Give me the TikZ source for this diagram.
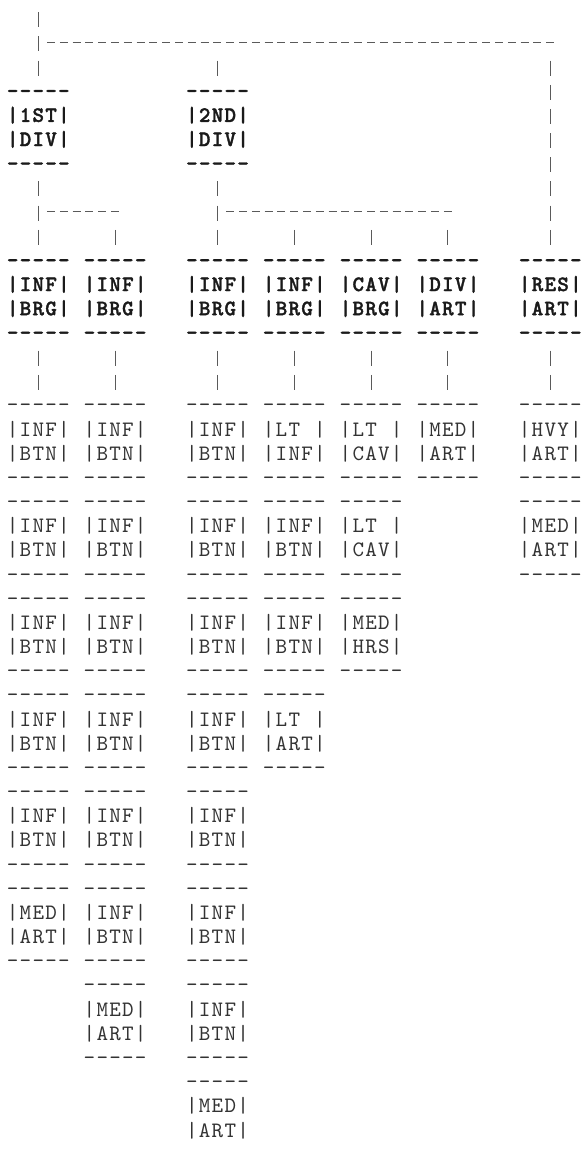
\documentclass[tikz,border=0pt]{standalone}
\usepackage{xcolor}
\usepackage{fontspec}
\usepackage{tikz}
\newfontfamily\asciimono{lmmono10-regular.otf}[BoldFont=lmmonolt10-bold.otf,
  BoldFeatures={FakeBold=1.5}]
\definecolor{inkcol}{HTML}{333333}
\definecolor{headcol}{HTML}{1A1A1A}
\definecolor{barcol}{HTML}{5A5A5A}
\newlength{\colw}
\setlength{\colw}{12.8pt}
\newcommand\asciifont{\asciimono\fontsize{22}{24.17}\selectfont}
\newcommand\spreadi[1]{\ifx\relax#1\else\makebox[\colw]{#1}\expandafter\spreadi\fi}
\newcommand\spread[1]{\strut\spreadi#1\relax}
\newcommand\asciiopen[2]{\spread{-----}\\%
  \expandafter\spread\expandafter{\expandafter|#1|}\\%
  \expandafter\spread\expandafter{\expandafter|#2|}}
\newcommand\asciibox[2]{\asciiopen{#1}{#2}\\%
  \spread{-----}}

\begin{document}
\begin{tikzpicture}[x=12.8pt, y=-24.17pt,
      headbox/.style={font=\asciifont\bfseries, text=headcol, align=left,
                      inner sep=0pt, outer sep=0pt, anchor=north west},
      leafbox/.style={font=\asciifont, text=inkcol, align=left,
                      inner sep=0pt, outer sep=0pt, anchor=north west},
      vbar/.style={draw=barcol, line width=1pt,
                   dash pattern=on 15pt off 9.17pt, shorten <=3.99pt},
      hbar/.style={draw=barcol, line width=1.2pt,
                   dash pattern=on 8pt off 4.8pt, shorten <=8.8pt, shorten >=-4pt}]

    \fill[white] (-0.492,-0.765) rectangle (44.977,46.94);
    \useasboundingbox (-0.492,-0.765) rectangle (44.977,46.94);

    \node[headbox] (div1) at (0,2.578) {\asciibox{1ST}{DIV}};
    \node[headbox] (div2) at (14,2.578) {\asciibox{2ND}{DIV}};

    % stacked leaf boxes, one column each
    \foreach \c/\list in {
        0/{INF/BTN,INF/BTN,INF/BTN,INF/BTN,INF/BTN,MED/ART},
        6/{INF/BTN,INF/BTN,INF/BTN,INF/BTN,INF/BTN,INF/BTN,MED/ART},
        14/{INF/BTN,INF/BTN,INF/BTN,INF/BTN,INF/BTN,INF/BTN,INF/BTN},
        20/{LT~/INF,INF/BTN,INF/BTN,LT~/ART},
        26/{LT~/CAV,LT~/CAV,MED/HRS},
        32/{MED/ART},
        40/{HVY/ART,MED/ART}}
    {
      \foreach \a/\b [count=\k from 0] in \list
        \node[leafbox] (l\c-\k) at (\c,15.578+4*\k) {\asciibox{\a}{\b}};
    }
    % last one runs off the page
    \node[leafbox] (l14-7) at (14,43.578) {\asciiopen{MED}{ART}};

    \foreach \c/\a/\b [count=\n] in {0/INF/BRG,6/INF/BRG,14/INF/BRG,
        20/INF/BRG,26/CAV/BRG,32/DIV/ART,40/RES/ART}
    {
      \node[headbox] (b\n) at (\c,9.578) {\asciibox{\a}{\b}};
      \draw[vbar] (b\n.south) -- (l\c-0.north);
    }

    \coordinate (root) at (2.5,-0.422);
    \coordinate (fork) at (2.5,1);
    \coordinate (tee2) at (16.5,1);
    \coordinate (forkend) at (42.5,1);
    \coordinate (fork1) at (2.5,8);
    \coordinate (fork1end) at (8.5,8);
    \coordinate (fork2) at (16.5,8);
    \coordinate (tee4) at (22.5,8);
    \coordinate (tee5) at (28.5,8);
    \coordinate (fork2end) at (34.5,8);

    \draw[vbar] (root) -- (div1.north);
    \draw[hbar] (fork) -- (forkend);
    \draw[vbar, shorten <=17.96pt] (tee2) -- (div2.north);
    \draw[vbar, shorten <=17.96pt] (forkend) -- (b7.north);

    \draw[vbar] (div1.south) -- (b1.north);
    \draw[hbar] (fork1) -- (fork1end);
    \draw[vbar, shorten <=17.96pt] (fork1end) -- (b2.north);

    \draw[vbar] (div2.south) -- (b3.north);
    \draw[hbar] (fork2) -- (fork2end);
    \draw[vbar, shorten <=17.96pt] (tee4) -- (b4.north);
    \draw[vbar, shorten <=17.96pt] (tee5) -- (b5.north);
    \draw[vbar, shorten <=17.96pt] (fork2end) -- (b6.north);
\end{tikzpicture}
\end{document}
